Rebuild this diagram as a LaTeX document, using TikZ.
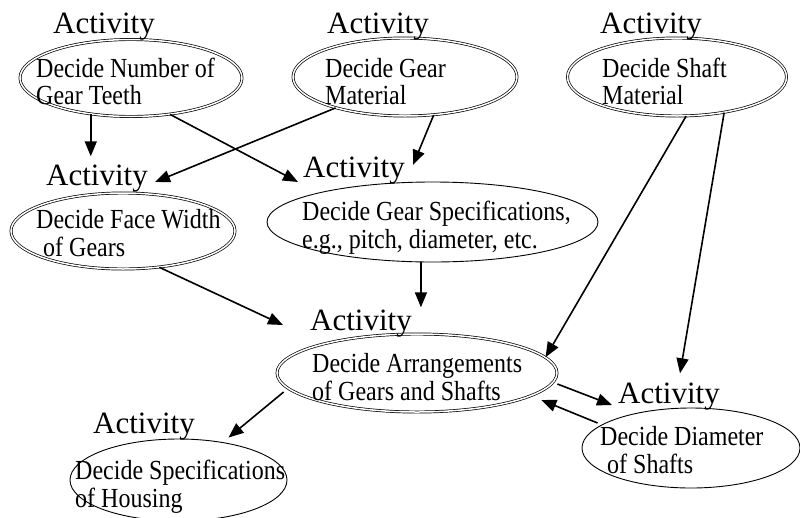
\documentclass[tikz,border=0pt]{standalone}
\usepackage{graphicx}
\usepackage{fontspec}
\setmainfont{Liberation Serif}
\usetikzlibrary{arrows.meta,shapes.geometric,calc}

% body text is set slightly taller than its natural shape
\newcommand\tallline[1]{\scalebox{1}[1.15]{#1}}

\tikzset{
  act/.style={ellipse, draw, line width=0.9pt, inner sep=0pt},
  actdouble/.style={ellipse, draw, double, line width=0.7pt, double distance=1.5pt, inner sep=0pt},
  tag/.style={anchor=base west, inner sep=0pt, font=\fontsize{31}{36}\selectfont},
  body/.style={anchor=base west, inner sep=0pt, font=\fontsize{24}{28}\selectfont},
  flow/.style={line width=1.6pt, -{Triangle[length=15pt,width=12pt]}}
}

\begin{document}
\begin{tikzpicture}[x=1pt, y=-1pt]
\useasboundingbox (0,0) rectangle (800,517);
\clip (0,0) rectangle (800,517);

% activity ellipses
\node[actdouble, minimum width=222pt, minimum height=77pt] (A) at (131,78) {};
\node[actdouble, minimum width=224pt, minimum height=78pt] (B) at (405,77) {};
\node[actdouble, minimum width=219pt, minimum height=78pt] (E) at (677,77) {};
\node[actdouble, minimum width=224pt, minimum height=76pt] (D) at (123,231) {};
\node[act, minimum width=331pt, minimum height=80pt] (C) at (432.5,222) {};
\node[actdouble, minimum width=280pt, minimum height=78pt] (F) at (417,373) {};
\node[act, minimum width=218pt, minimum height=80pt] (G) at (691,448) {};
\node[act, minimum width=217pt, minimum height=82pt] (H) at (178.5,480) {};

% "Activity" headings
\node[tag] (labA) at (53,33) {Activity};
\node[tag] (labB) at (327,33) {Activity};
\node[tag] (labE) at (600,33) {Activity};
\node[tag] (labD) at (46,185) {Activity};
\node[tag] (labC) at (303,177) {Activity};
\node[tag] (labF) at (310,330) {Activity};
\node[tag] (labG) at (618,403) {Activity};
\node[tag] (labH) at (93,433) {Activity};

% texts inside the ellipses
\node[body] (tA1) at (36,77) {\tallline{Decide Number of}};
\node[body] (tA2) at (36,104) {\tallline{Gear Teeth}};
\node[body] (tB1) at (325,77) {\tallline{Decide Gear}};
\node[body] (tB2) at (325,104) {\tallline{Material}};
\node[body] (tE1) at (602,77) {\tallline{Decide Shaft}};
\node[body] (tE2) at (602,104) {\tallline{Material}};
\node[body] (tD1) at (36,228) {\tallline{Decide Face Width}};
\node[body] (tD2) at (43,256) {\tallline{of Gears}};
\node[body] (tC1) at (302,220) {\tallline{Decide Gear Specifications,}};
\node[body] (tC2) at (302,248) {\tallline{e.g., pitch, diameter, etc.}};
\node[body] (tF1) at (312,372) {\tallline{Decide Arrangements}};
\node[body] (tF2) at (312,400) {\tallline{of Gears and Shafts}};
\node[body] (tG1) at (600,445) {\tallline{Decide Diameter}};
\node[body] (tG2) at (607,473) {\tallline{of Shafts}};
\node[body] (tH1) at (75,479) {\tallline{Decide Specifications}};
\node[body] (tH2) at (75,507) {\tallline{of Housing}};

% connectors
\draw[flow] (A.-138) -- ($(A.-138 |- labD.north)+(0,-8)$);
\draw[flow] (A.-43) -- ($(labC.base west)+(-5,5)$);
\draw[flow] (B.204) -- ($(labD.base east)+(7,-3)$);
\draw[flow] (B.-53) -- ($(labC.base east)+(8,-12)$);
\draw[flow] (C.-106.7) -- ($(C.-106.7 |- labF.north)+(0,-2)$);
\draw[flow] (D.-45) -- ($(labF.base west)+(-27,-5)$);
\draw[flow] (E.-77.6) -- (F.7);
\draw[flow] (E.-37) -- ($(labG.north)+(11,-9)$);
\draw[flow] ($(F.east)+(0,11)$) -- ($(labG.base west)+(-6,2)$);
\draw[flow] ($(G.west)+(16,-25)$) -- ($(F.east)+(-16,27)$);
\draw[flow] ($(F.west)+(7,19)$) -- ($(H.north)+(50,-1)$);
\end{tikzpicture}
\end{document}
